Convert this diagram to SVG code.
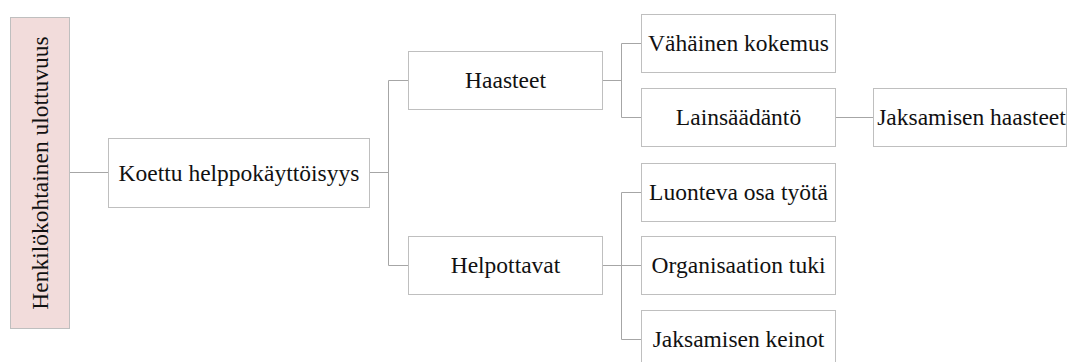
<svg xmlns="http://www.w3.org/2000/svg" width="1068" height="362" viewBox="0 0 1068 362">
  <style>
    .box { fill: #ffffff; stroke: #bfbfbf; stroke-width: 1; }
    .root { fill: #f2dcdb; stroke: #bfbfbf; stroke-width: 1; }
    .lbl { font-family: "Liberation Serif", "DejaVu Serif", serif; font-size: 23.5px; fill: #111111; text-anchor: middle; }
    .conn { fill: none; stroke: #a6a6a6; stroke-width: 1; }
  </style>
  <rect width="1068" height="362" fill="#ffffff"/>

  <g id="connectors">
    <path class="conn" d="M69.5,172.5 H108.5"/>
    <path class="conn" d="M369.5,172.5 H388.5 M388.5,80.5 V265.5 M388.5,80.5 H408.5 M388.5,265.5 H408.5"/>
    <path class="conn" d="M602.5,80.5 H621.5 M621.5,43.5 V117.5 M621.5,43.5 H641.5 M621.5,117.5 H641.5"/>
    <path class="conn" d="M835.5,117.5 H873.5"/>
    <path class="conn" d="M602.5,265.5 H621.5 M621.5,192.5 V339.5 M621.5,192.5 H641.5 M621.5,265.5 H641.5 M621.5,339.5 H641.5"/>
  </g>

  <g id="henkilokohtainen">
    <rect class="root" x="10.5" y="17.5" width="59" height="311"/>
    <text class="lbl" transform="translate(40,173) rotate(-90)" x="0" y="8">Henkilökohtainen ulottuvuus</text>
  </g>

  <g id="koettu">
    <rect class="box" x="108.5" y="138.5" width="261" height="69"/>
    <text class="lbl" x="239" y="180.5">Koettu helppokäyttöisyys</text>
  </g>

  <g id="haasteet">
    <rect class="box" x="408.5" y="51.5" width="194" height="58"/>
    <text class="lbl" x="505.5" y="88">Haasteet</text>
  </g>

  <g id="helpottavat">
    <rect class="box" x="408.5" y="236.5" width="194" height="58"/>
    <text class="lbl" x="505.5" y="273">Helpottavat</text>
  </g>

  <g id="vahainen-kokemus">
    <rect class="box" x="641.5" y="14.5" width="194" height="58"/>
    <text class="lbl" x="738.5" y="51">Vähäinen kokemus</text>
  </g>

  <g id="lainsaadanto">
    <rect class="box" x="641.5" y="88.5" width="194" height="58"/>
    <text class="lbl" x="738.5" y="125">Lainsäädäntö</text>
  </g>

  <g id="jaksamisen-haasteet">
    <rect class="box" x="873.5" y="88.5" width="193" height="58"/>
    <text class="lbl" x="971.5" y="125">Jaksamisen haasteet</text>
  </g>

  <g id="luonteva-osa-tyota">
    <rect class="box" x="641.5" y="163.5" width="194" height="58"/>
    <text class="lbl" x="738.5" y="200">Luonteva osa työtä</text>
  </g>

  <g id="organisaation-tuki">
    <rect class="box" x="641.5" y="236.5" width="194" height="58"/>
    <text class="lbl" x="738.5" y="273">Organisaation tuki</text>
  </g>

  <g id="jaksamisen-keinot">
    <rect class="box" x="641.5" y="310.5" width="194" height="58"/>
    <text class="lbl" x="738.5" y="347">Jaksamisen keinot</text>
  </g>
</svg>
